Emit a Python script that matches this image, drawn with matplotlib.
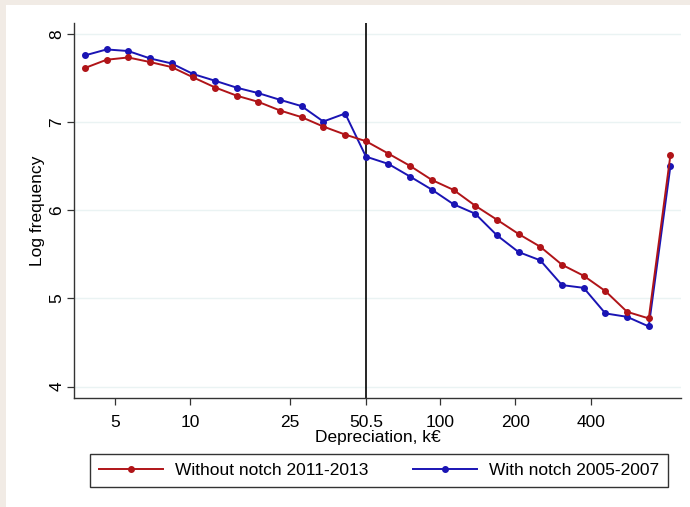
import matplotlib.pyplot as plt
import matplotlib.patches as patches

plt.rcParams['font.family'] = ['Liberation Sans', 'DejaVu Sans']

# depreciation bins (k EUR)
depr = [3.79, 4.63, 5.65, 6.91, 8.43, 10.3, 12.6, 15.4, 18.7, 22.9, 27.9, 34.1, 41.7, 50.5,
        62.1, 75.9, 92.7, 113.2, 138.2, 168.8, 206.1, 251.7, 307.4, 375.3, 458.4, 559.8,
        683.6, 834.8]

without_notch = [7.614, 7.708, 7.734, 7.682, 7.625, 7.507, 7.393, 7.299, 7.231, 7.132,
                 7.057, 6.950, 6.859, 6.784, 6.643, 6.503, 6.344, 6.231, 6.052, 5.893,
                 5.731, 5.586, 5.382, 5.257, 5.083, 4.848, 4.773, 6.628]

with_notch = [7.757, 7.825, 7.807, 7.723, 7.666, 7.545, 7.469, 7.390, 7.330, 7.253,
              7.182, 7.007, 7.098, 6.609, 6.526, 6.382, 6.234, 6.068, 5.961, 5.716,
              5.526, 5.432, 5.151, 5.120, 4.830, 4.791, 4.682, 6.503]

xticks = [5, 10, 25, 50.5, 100, 200, 400]
xtick_labels = ['5', '10', '25', '50.5', '100', '200', '400']
yticks = [4, 5, 6, 7, 8]
notch = 50.5

red = '#b01418'
blue = '#1a14b4'
fs = 12.5

fig = plt.figure(figsize=(6.9, 5.07), dpi=100)
fig.patch.set_facecolor('white')
# beige frame strips at top and left
fig.add_artist(patches.Rectangle((0, 1 - 5 / 507), 1, 5 / 507, transform=fig.transFigure,
                                 facecolor='#f1ebe5', edgecolor='none'))
fig.add_artist(patches.Rectangle((0, 0), 6 / 690, 1, transform=fig.transFigure,
                                 facecolor='#f1ebe5', edgecolor='none'))

ax = fig.add_axes([74 / 690, 1 - 398 / 507, (681 - 74) / 690, (398 - 23) / 507])

ax.set_xscale('log')
ax.set_xlim(3.43, 920)
ax.set_ylim(3.87, 8.125)

for y in yticks:
    ax.axhline(y, color='#eaf3f3', lw=1.0, zorder=0)

ax.axvline(notch, color='black', lw=1.2, zorder=1)

ax.plot(depr, with_notch, color=blue, lw=1.4, marker='o', ms=4,
        label='With notch 2005-2007', zorder=3)
ax.plot(depr, without_notch, color=red, lw=1.4, marker='o', ms=4,
        label='Without notch 2011-2013', zorder=4)

ax.set_xticks(xticks)
ax.set_xticklabels(xtick_labels)
ax.xaxis.set_minor_locator(plt.NullLocator())
ax.set_yticks(yticks)
ax.set_yticklabels([str(v) for v in yticks], rotation=90, va='center')

ax.tick_params(axis='both', direction='out', length=5, width=0.9, color='#333333',
               labelsize=fs)
ax.tick_params(axis='x', pad=7)
ax.tick_params(axis='y', pad=2)

for side in ['top', 'right']:
    ax.spines[side].set_visible(False)
for side in ['left', 'bottom']:
    ax.spines[side].set_color('#333333')
    ax.spines[side].set_linewidth(1.0)

ax.set_xlabel('Depreciation, k€', fontsize=fs, labelpad=0)
ax.set_ylabel('Log frequency', fontsize=fs, labelpad=3)

handles, labels = ax.get_legend_handles_labels()
leg = fig.legend(handles[::-1], labels[::-1], loc='center',
                 bbox_to_anchor=(379 / 690, 1 - 470.5 / 507), ncol=2, fontsize=fs,
                 frameon=True, fancybox=False, edgecolor='black', handlelength=3.7,
                 columnspacing=2.6, borderpad=0.5, handletextpad=0.65)
leg.get_frame().set_linewidth(1.0)

fig.savefig('out.png', dpi=100, facecolor='white')
